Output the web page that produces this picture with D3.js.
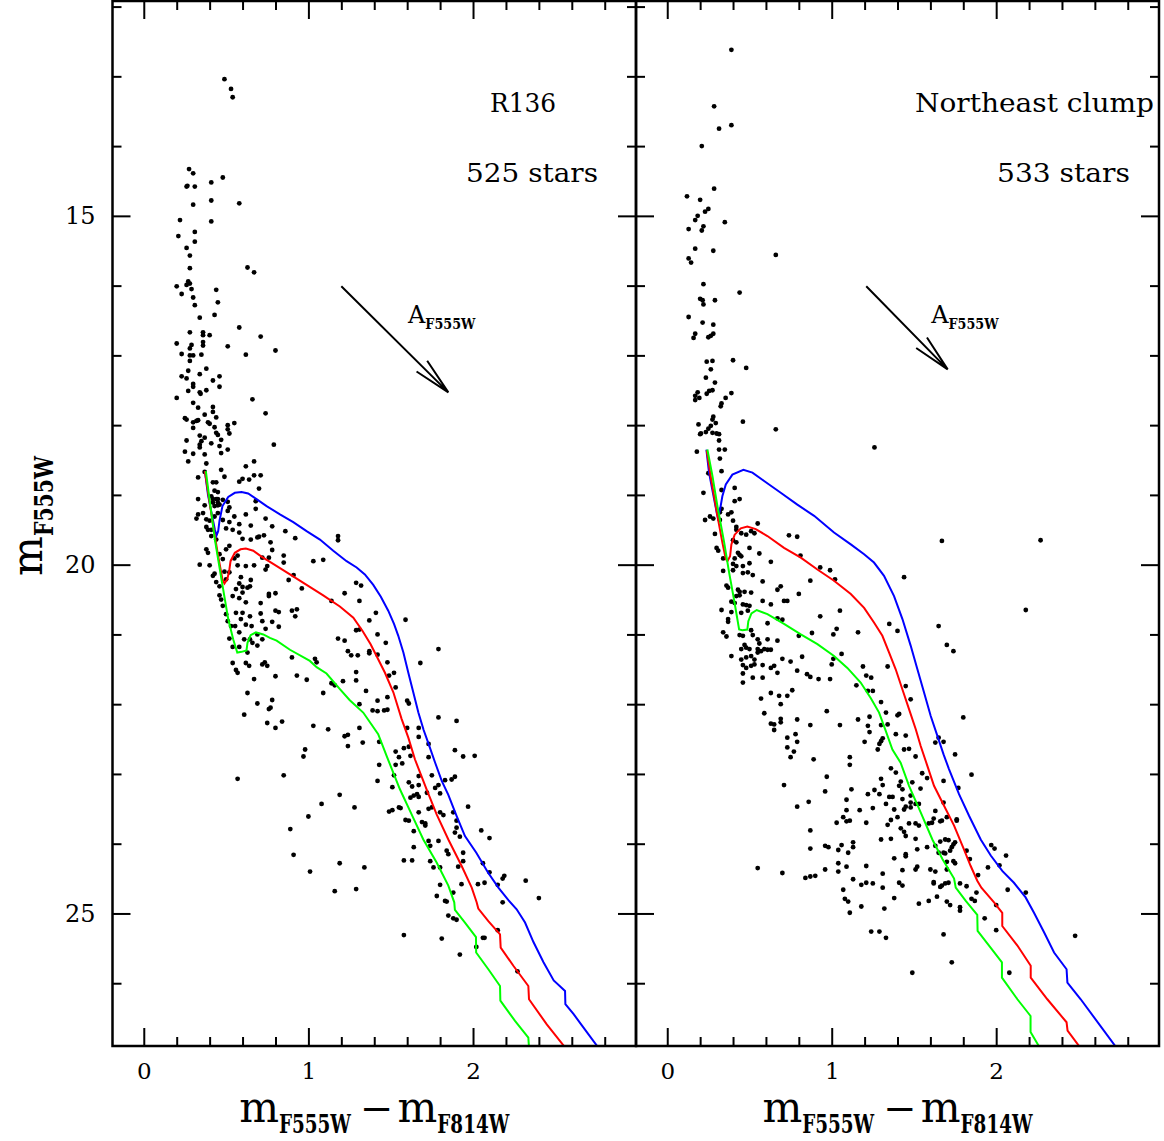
<!DOCTYPE html>
<html>
<head>
<meta charset="utf-8">
<script src="https://cdn.jsdelivr.net/npm/d3@7"></script>
<style>
  body { margin: 0; background: #fff; }
  svg { display: block; }
</style>
</head>
<body>
<div id="chart"></div>
<script>
// ---- Data: stars (colour m555-m814, magnitude m555) ----
const r136Stars = [
  [0.49,13.04],[0.53,13.18],[0.54,13.30],
  [0.275,14.33],[0.30,14.39],[0.26,14.58],[0.265,14.57],[0.31,14.58],[0.41,14.52],[0.48,14.45],[0.30,14.84],[0.41,14.78],[0.58,14.82],
  [0.22,15.06],[0.41,15.08],[0.21,15.29],[0.31,15.23],[0.31,15.37],[0.26,15.46],[0.28,15.57],[0.28,15.75],[0.63,15.74],[0.67,15.81],
  [0.27,15.94],[0.28,15.97],[0.26,15.99],[0.20,16.01],[0.29,16.05],[0.23,16.12],[0.44,16.06],[0.30,16.17],[0.45,16.24],[0.31,16.28],
  [0.43,16.42],[0.34,16.46],[0.58,16.60],[0.28,16.67],[0.36,16.67],[0.36,16.71],[0.40,16.71],[0.71,16.73],[0.20,16.83],[0.29,16.85],
  [0.28,16.90],[0.36,16.81],[0.36,16.86],[0.51,16.87],[0.23,16.98],[0.30,17.00],[0.28,17.00],[0.35,16.99],[0.28,17.08],[0.62,16.99],
  [0.80,16.93],[0.38,17.19],[0.27,17.22],[0.23,17.30],[0.26,17.33],[0.34,17.27],[0.46,17.30],[0.42,17.36],[0.46,17.45],[0.30,17.41],
  [0.30,17.45],[0.27,17.51],[0.34,17.53],[0.345,17.55],[0.38,17.50],[0.20,17.61],[0.66,17.63],[0.30,17.68],[0.33,17.75],[0.42,17.74],
  [0.42,17.81],[0.74,17.83],[0.25,17.90],[0.26,17.92],[0.30,17.96],[0.30,18.04],[0.33,17.93],[0.32,17.94],[0.37,17.85],[0.39,17.96],
  [0.40,17.98],[0.44,17.89],[0.43,18.03],[0.51,18.00],[0.51,18.06],[0.52,18.12],[0.55,17.97],[0.44,18.11],[0.45,18.14],[0.34,18.15],
  [0.37,18.18],[0.26,18.22],[0.35,18.23],[0.34,18.28],[0.34,18.32],[0.47,18.21],[0.41,18.26],[0.46,18.30],[0.79,18.28],[0.25,18.38],
  [0.30,18.41],[0.37,18.42],[0.47,18.40],[0.51,18.35],[0.27,18.52],[0.38,18.55],[0.62,18.59],[0.67,18.52],
  [0.47,18.64],[0.33,18.75],[0.49,18.74],[0.58,18.81],[0.60,18.77],[0.64,18.78],[0.67,18.72],[0.71,18.72],[0.70,18.91],
  [0.37,18.67],[0.42,18.82],[0.44,18.82],[0.43,18.94],[0.45,18.96],[0.41,19.02],[0.42,19.06],[0.44,19.06],[0.45,19.06],[0.42,19.11],
  [0.45,19.11],[0.48,19.07],[0.43,19.16],[0.45,19.15],[0.46,19.14],[0.51,19.10],[0.52,19.18],[0.51,19.23],[0.33,19.06],[0.37,19.15],
  [0.33,19.28],[0.32,19.34],[0.36,19.26],[0.38,19.35],[0.40,19.37],[0.43,19.31],[0.45,19.26],[0.48,19.36],[0.55,19.31],[0.62,19.28],
  [0.38,19.46],[0.39,19.50],[0.41,19.50],[0.41,19.59],[0.44,19.64],[0.50,19.48],[0.54,19.50],[0.58,19.54],[0.58,19.42],[0.65,19.44],
  [0.52,19.39],[0.38,19.78],[0.39,19.83],[0.46,19.85],[0.52,19.73],[0.50,19.78],[0.57,19.87],[0.65,19.64],[0.60,19.63],[0.34,20.00],
  [0.40,20.01],[0.48,19.92],[0.55,19.91],[0.57,20.01],[0.62,20.02],[0.43,20.13],[0.42,20.16],[0.49,20.10],[0.52,20.11],[0.59,20.18],
  [0.44,20.25],[0.46,20.31],[0.50,20.21],[0.58,20.27],[0.60,20.32],[0.63,20.33],[0.645,20.31],[0.56,20.35],[0.46,20.44],[0.47,20.50],
  [0.54,20.45],[0.58,20.48],[0.60,20.40],[0.62,20.54],[0.48,20.59],[0.50,20.71],[0.51,20.81],[0.53,20.88],[0.555,20.88],[0.56,20.69],
  [0.60,20.69],[0.645,20.74],[0.59,20.78],[0.62,20.86],[0.655,20.88],[0.52,21.06],[0.54,21.18],[0.58,20.97],[0.61,21.07],[0.645,21.07],
  [0.58,21.18],[0.63,21.26],[0.69,21.00],[0.72,21.07],
  [0.68,19.09],[0.68,19.20],[0.74,19.34],[0.78,19.45],[0.86,19.52],[0.92,19.62],[0.69,19.61],[0.70,19.60],[0.73,19.58],[0.77,19.68],
  [0.78,19.79],[0.72,19.90],[0.75,20.02],[0.74,20.07],[0.76,19.90],[0.67,20.01],[0.85,19.87],[0.85,19.97],[1.03,19.95],[1.09,19.93],
  [1.18,19.59],[1.18,19.65],[0.65,20.22],[0.88,20.22],[0.91,20.15],[0.96,20.34],[0.71,20.55],[0.76,20.45],[0.76,20.42],[0.80,20.41],
  [1.14,20.52],[1.22,20.41],[1.29,20.26],[1.32,20.30],[1.31,20.52],[0.71,20.70],[0.72,20.81],[0.74,20.92],[0.78,20.82],[0.80,20.66],
  [0.82,20.68],[0.82,20.89],[0.90,20.66],[0.93,20.64],[0.92,20.74],[0.66,21.12],[0.69,21.16],[0.72,21.43],[0.75,21.45],[0.67,21.64],
  [0.80,21.60],[0.90,21.33],[0.93,21.59],[0.99,21.65],[1.04,21.35],[1.05,21.40],[0.69,21.99],[0.77,22.05],[0.76,22.07],[0.78,21.94],
  [0.75,22.27],[0.80,22.34],[0.84,22.25],[0.85,23.02],[0.97,22.75],[0.98,22.65],[1.03,22.31],[1.12,22.36],[1.09,21.84],[1.14,21.70],
  [1.21,21.67],[1.16,21.73],[1.19,23.30],[1.18,21.06],[1.22,21.09],[1.24,21.24],[1.26,21.30],[1.30,21.30],[1.37,21.27],[1.29,20.94],
  [1.31,20.93],[1.37,21.24],[1.29,21.54],[1.29,21.66],[1.35,21.81],[1.31,22.00],[1.22,22.46],[1.24,22.44],[1.24,22.60],[1.31,22.34],
  [1.33,22.55],[1.37,20.80],[1.41,20.69],[1.42,21.00],[1.47,21.12],[1.42,21.95],[1.39,22.09],[1.42,22.10],[1.46,22.09],[1.48,22.08],
  [1.48,21.90],[1.48,21.40],[1.49,21.59],[1.52,21.55],[1.53,21.76],[1.42,21.29],[1.43,22.54],[1.43,22.87],[1.42,23.10],[1.53,22.68],
  [1.55,22.76],[1.57,22.85],[1.58,22.63],[1.61,22.61],[1.62,22.74],[1.52,23.02],[1.51,23.19],[1.59,20.79],[1.60,22.34],[1.67,22.34],
  [1.67,22.47],[1.73,22.57],[1.73,22.76],[1.60,21.95],[1.61,21.99],[1.68,21.41],[1.61,23.12],[1.63,23.18],[1.67,23.03],[1.67,23.16],
  [1.66,23.29],[1.72,23.27],[1.75,23.02],[1.77,23.20],[1.79,23.16],[1.80,23.28],[1.83,23.09],[1.87,23.08],[1.89,23.04],[1.79,21.21],
  [1.79,22.19],[1.90,22.24],[1.89,22.66],[1.94,22.75],[2.01,22.74],[1.53,22.87],[1.62,23.34],[1.67,23.33],
  [0.54,21.41],[0.62,21.41],[0.64,21.45],[0.735,21.40],[0.56,21.51],[0.57,21.55],[0.63,21.84],[0.61,22.15],[0.57,23.07],
  [1.08,23.43],[1.00,23.61],[0.89,23.79],[0.91,24.16],[1.01,24.40],
  [1.28,23.48],[1.49,23.54],[1.51,23.52],[1.55,23.48],[1.56,23.49],[1.59,23.66],[1.61,23.67],[1.69,23.69],[1.71,23.71],[1.71,23.74],
  [1.73,23.50],[1.75,23.48],[1.64,23.31],[1.67,23.55],[1.80,23.55],[1.82,23.59],[1.88,23.55],[1.90,23.67],[1.90,23.77],[1.97,23.47],
  [1.89,23.84],[1.92,23.90],[2.05,23.81],[2.10,23.92],[1.64,23.82],[1.73,23.96],[1.74,24.03],[1.79,23.96],[1.58,24.24],[1.63,24.24],
  [1.64,24.05],[1.19,24.28],[1.34,24.34],[1.16,24.68],[1.29,24.65],[1.74,24.25],[1.76,24.34],[1.80,24.34],[1.84,24.10],[1.85,24.15],
  [1.94,24.13],[1.94,24.25],[1.91,24.33],[1.93,24.58],[1.80,24.59],[1.88,24.70],[1.78,24.75],[1.83,24.82],[1.84,24.83],[1.85,25.03],
  [1.88,25.07],[1.90,25.09],[2.03,24.58],[2.07,24.56],[2.06,24.28],[2.10,24.41],[2.18,24.50],[2.19,24.46],[2.15,24.59],[2.18,24.84],
  [2.32,24.53],[2.40,24.78],[1.58,25.31],[1.81,25.36],[1.92,25.59],[2.02,25.48],[2.06,25.35],[2.07,25.35],[2.15,25.24],[2.27,25.83]
];

const clumpStars = [
  [0.39,12.62],[0.285,13.43],[0.315,13.75],[0.39,13.70],[0.21,14.00],[0.285,14.61],[0.12,14.72],[0.20,14.77],[0.25,14.90],[0.23,14.94],
  [0.185,15.00],[0.17,15.06],[0.13,15.19],[0.22,15.15],[0.21,15.21],[0.35,15.09],[0.17,15.47],[0.28,15.50],[0.13,15.61],[0.145,15.67],
  [0.66,15.56],[0.22,15.98],[0.44,16.10],[0.20,16.19],[0.215,16.21],[0.22,16.27],[0.29,16.21],[0.13,16.45],[0.215,16.53],[0.28,16.56],
  [0.17,16.69],[0.16,16.75],[0.25,16.74],[0.265,16.72],[0.28,16.69],[0.24,17.09],[0.275,17.08],[0.40,17.07],[0.265,17.20],[0.48,17.18],
  [0.235,17.32],[0.29,17.39],[0.185,17.53],[0.17,17.58],[0.17,17.64],[0.195,17.61],[0.24,17.55],[0.255,17.51],[0.275,17.50],[0.39,17.54],
  [0.355,17.61],[0.33,17.69],[0.325,17.73],[0.28,17.88],[0.275,17.92],[0.295,17.97],[0.19,17.99],[0.46,17.95],[0.66,18.06],[0.265,18.01],
  [0.25,18.05],[0.235,18.10],[0.275,18.11],[0.30,18.12],[0.315,18.13],[0.20,18.13],[0.205,18.12],[0.315,18.22],[0.18,18.38],[0.315,18.35],
  [0.35,18.35],[0.32,18.48],[1.26,18.32],
  [0.33,18.66],[0.25,18.69],[0.33,18.93],[0.22,18.97],[0.41,18.90],[0.44,19.06],[0.41,19.09],[0.33,19.20],[0.32,19.25],[0.39,19.25],
  [0.37,19.28],[0.26,19.31],[0.28,19.34],[0.23,19.36],[0.32,19.36],[0.40,19.37],[0.42,19.46],[0.42,19.50],[0.55,19.41],[0.51,19.52],
  [0.53,19.55],[0.45,19.55],[0.48,19.57],[0.29,19.56],[0.74,19.58],[0.79,19.60],[0.40,19.65],[0.42,19.68],[0.30,19.76],[0.31,19.80],
  [0.50,19.76],[0.43,19.83],[0.44,19.86],[0.45,19.88],[0.56,19.84],[0.81,19.87],[0.34,19.91],[0.41,19.91],[0.40,19.99],[0.42,20.02],
  [0.46,20.02],[0.50,19.98],[0.63,19.96],[0.34,20.09],[0.40,20.08],[0.46,20.12],[0.49,20.11],[0.52,20.15],[0.93,20.04],[0.99,20.08],
  [1.02,20.21],[0.87,20.23],[0.58,20.24],[0.36,20.30],[0.37,20.33],[0.69,20.31],[0.67,20.36],[0.80,20.42],[0.43,20.36],[0.44,20.39],
  [0.44,20.44],[0.42,20.45],[0.47,20.39],[0.51,20.40],[0.39,20.53],[0.41,20.55],[0.46,20.57],[0.48,20.58],[0.50,20.59],[0.58,20.52],
  [0.63,20.57],[0.71,20.52],[0.73,20.52],[0.33,20.65],[1.05,20.66],[0.39,20.68],[0.37,20.78],[0.37,20.82],[0.45,20.69],[0.49,20.66],
  [0.61,20.84],[0.67,20.77],[0.70,20.79],[0.93,20.74],[0.34,20.97],[0.36,21.03],[0.44,21.01],[0.46,21.02],[0.51,20.94],[0.52,21.01],
  [0.61,21.07],[0.67,21.09],[0.47,21.15],[0.45,21.21],[0.48,21.19],[0.50,21.21],[0.55,21.07],[0.56,21.13],[0.55,21.21],[0.59,21.21],
  [0.61,21.22],[0.63,21.22],[0.80,21.02],[0.88,20.98],[1.01,21.00],[1.03,20.92],[1.16,20.97],[1.35,20.85],[1.40,20.95],[0.39,21.31],
  [0.45,21.36],[0.48,21.33],[0.51,21.31],[0.53,21.36],[0.55,21.26],[0.57,21.24],[0.46,21.44],[0.48,21.48],[0.51,21.45],[0.53,21.43],
  [0.58,21.44],[0.63,21.48],[0.65,21.45],[0.70,21.35],[0.75,21.39],[0.82,21.32],[0.46,21.56],[0.52,21.62],[0.58,21.62],[0.67,21.55],
  [0.79,21.52],[0.85,21.57],[0.87,21.61],[0.92,21.64],[0.99,21.64],[1.00,21.43],[1.01,21.35],[1.06,21.28],[0.46,21.69],[1.19,21.46],
  [1.21,21.59],[1.24,21.62],[1.15,21.73],[1.22,21.81],[1.25,21.81],[1.34,21.46],[1.45,21.74],[1.30,21.97],[1.48,21.93],[1.44,20.18],
  [1.67,19.66],[1.65,20.88],[1.70,21.15],[1.74,21.24],[1.80,22.19],[2.27,19.65],[2.18,20.65],
  [0.57,21.92],[0.63,21.84],[0.68,21.88],[0.73,21.88],[0.76,21.80],[0.69,22.00],[0.59,22.13],[0.63,22.28],[0.65,22.29],[0.65,22.37],
  [0.69,22.21],[0.69,22.26],[0.79,22.22],[0.87,22.30],[0.97,22.10],[1.05,22.30],[1.16,22.22],[1.23,22.18],[1.22,22.31],[1.23,22.40],
  [1.30,22.30],[1.33,22.12],[1.40,22.16],[1.41,22.14],[1.34,22.29],[1.39,22.43],[1.45,22.45],[1.31,22.49],[1.30,22.53],[1.29,22.57],
  [1.28,22.65],[1.20,22.54],[0.73,22.48],[0.78,22.43],[0.79,22.54],[0.77,22.68],[0.73,22.62],[0.75,22.76],[0.89,22.79],[1.11,22.76],
  [1.44,22.65],[1.47,22.64],[1.63,22.55],[1.65,22.48],[1.68,22.54],[1.75,22.72],
  [1.11,22.87],[1.51,22.75],[0.97,23.04],[0.96,23.25],[0.71,23.16],[0.86,23.40],[0.79,23.47],[0.87,23.81],[0.87,24.07],[0.96,24.03],
  [0.98,24.05],[0.96,24.37],[0.55,24.35],[0.70,24.42],[0.84,24.49],[0.87,24.47],[0.90,24.46],[1.04,24.09],[1.06,24.02],[1.04,24.28],
  [1.04,24.40],[1.09,24.33],[1.10,24.13],[1.13,24.05],[1.13,23.98],[1.09,23.37],[1.09,23.52],[1.07,23.62],[1.09,23.68],[1.11,23.67],
  [1.03,23.70],[1.12,23.22],[1.17,23.52],[1.21,23.70],[1.21,24.32],[1.22,23.29],[1.25,23.49],[1.26,23.23],[1.29,23.29],[1.30,23.94],
  [1.30,23.07],[1.31,23.16],[1.33,23.43],[1.34,23.73],[1.36,23.93],[1.36,23.66],[1.35,23.33],[1.37,23.33],[1.39,22.98],[1.36,22.92],
  [1.38,23.51],[1.40,23.62],[1.42,23.11],[1.41,23.17],[1.43,23.22],[1.43,23.36],[1.44,23.51],[1.45,23.47],[1.48,23.31],[1.48,23.41],
  [1.48,23.48],[1.51,23.43],[1.53,23.43],[1.49,23.12],[1.54,23.21],[1.42,23.78],[1.44,23.83],[1.45,23.89],[1.47,23.71],[1.51,23.71],
  [1.53,23.74],[1.51,23.93],[1.38,24.21],[1.31,24.43],[1.32,24.93],[1.31,24.63],[1.38,24.78],[1.41,24.56],[1.43,24.60],[1.43,24.38],
  [1.45,24.18],[1.45,24.15],[1.52,24.08],[1.52,24.33],[1.51,24.37],[1.53,24.86],[1.58,24.05],[1.59,24.82],[1.59,23.71],[1.61,23.70],
  [1.62,23.64],[1.63,23.53],[1.60,24.37],[1.62,24.55],[1.62,24.57],[1.63,24.03],[1.65,24.13],[1.63,24.40],[1.64,24.76],[1.66,24.62],
  [1.67,24.60],[1.66,23.97],[1.69,23.94],[1.71,23.95],[1.66,23.68],[1.67,23.67],[1.70,23.62],[1.68,23.10],[1.68,23.41],[1.70,24.26],
  [1.70,24.37],[1.68,24.13],[1.69,24.14],[1.72,24.10],[1.70,24.83],[1.72,24.88],[1.69,24.57],[1.71,24.56],[1.73,24.05],[1.74,24.01],
  [1.75,23.98],[1.76,23.65],[1.76,23.67],[1.74,24.25],[1.75,24.28],[1.78,24.57],[1.78,24.91],[1.78,24.96],[1.82,24.61],[1.82,24.10],
  [1.84,24.22],[1.85,24.79],[1.87,24.82],[1.88,24.70],[1.89,24.45],[1.93,25.07],[1.95,24.34],[1.97,24.02],[1.99,24.07],[2.00,24.88],
  [2.00,25.24],[2.02,24.31],[2.06,24.17],[2.07,24.66],[2.08,25.85],[2.18,24.70],[2.48,25.32],[1.68,25.30],[1.73,25.70],[1.49,25.85],
  [1.24,25.26],[1.29,25.26],[1.33,25.35],[1.07,24.66],[1.08,24.79],[1.10,24.83],[1.11,24.99],[1.18,24.90],[1.21,24.56],[1.25,24.57],
  [1.13,24.51],[1.18,24.59],[1.85,23.01],[1.77,23.20],[1.55,22.99],[1.58,23.06]
];

// ---- Isochrones (blue, red, green) for each panel ----
const r136Blue = [[0.371,18.66],[0.39,19.00],[0.415,19.30],[0.432,19.50],[0.442,19.58],[0.452,19.52],[0.46,19.37],[0.478,19.16],[0.513,19.03],[0.553,18.97],[0.594,18.96],[0.634,18.98],[0.685,19.06],[0.746,19.16],[0.827,19.28],[0.908,19.39],[0.989,19.52],[1.07,19.64],[1.151,19.80],[1.232,19.95],[1.293,20.04],[1.343,20.14],[1.394,20.29],[1.44,20.46],[1.485,20.66],[1.52,20.85],[1.546,21.02],[1.577,21.26],[1.607,21.55],[1.637,21.83],[1.668,22.12],[1.70,22.37],[1.73,22.57],[1.77,22.84],[1.81,23.10],[1.85,23.30],[1.90,23.60],[1.951,23.89],[2.02,24.13],[2.09,24.41],[2.154,24.63],[2.215,24.81],[2.265,24.94],[2.316,25.13],[2.367,25.41],[2.428,25.70],[2.49,25.96],[2.559,26.11],[2.561,26.30],[2.61,26.44],[2.66,26.60],[2.76,26.92]];
const r136Red = [[0.371,18.66],[0.391,18.97],[0.422,19.45],[0.452,19.88],[0.478,20.21],[0.49,20.27],[0.507,20.21],[0.519,20.09],[0.527,19.95],[0.553,19.83],[0.588,19.78],[0.62,19.77],[0.665,19.80],[0.715,19.885],[0.786,19.99],[0.888,20.14],[0.989,20.29],[1.09,20.44],[1.191,20.60],[1.273,20.76],[1.329,20.95],[1.378,21.14],[1.414,21.31],[1.465,21.55],[1.516,21.83],[1.566,22.21],[1.607,22.48],[1.647,22.79],[1.718,23.22],[1.779,23.58],[1.85,23.94],[1.931,24.32],[1.992,24.63],[2.022,24.84],[2.032,24.93],[2.093,25.11],[2.164,25.30],[2.168,25.49],[2.245,25.75],[2.336,26.04],[2.340,26.23],[2.448,26.59],[2.559,26.92]];
const r136Green = [[0.377,18.66],[0.397,19.02],[0.432,19.64],[0.472,20.21],[0.513,20.78],[0.543,21.07],[0.568,21.26],[0.594,21.25],[0.624,21.23],[0.63,21.12],[0.649,21.01],[0.681,20.97],[0.726,21.00],[0.766,21.05],[0.807,21.09],[0.888,21.22],[1.009,21.38],[1.05,21.47],[1.11,21.56],[1.19,21.78],[1.25,21.94],[1.333,22.12],[1.424,22.43],[1.475,22.74],[1.51,22.95],[1.556,23.22],[1.627,23.58],[1.698,23.94],[1.779,24.27],[1.85,24.60],[1.886,24.84],[1.89,24.95],[1.951,25.13],[2.018,25.34],[2.019,25.56],[2.093,25.80],[2.164,26.04],[2.166,26.25],[2.255,26.54],[2.336,26.78],[2.34,26.92]];

const clumpBlue = [[0.238,18.35],[0.254,18.68],[0.285,19.06],[0.303,19.28],[0.309,19.33],[0.321,19.21],[0.335,19.02],[0.356,18.85],[0.396,18.71],[0.463,18.64],[0.518,18.68],[0.589,18.80],[0.69,18.97],[0.791,19.14],[0.893,19.30],[1.014,19.54],[1.116,19.71],[1.197,19.85],[1.257,19.97],[1.318,20.16],[1.379,20.45],[1.43,20.78],[1.48,21.16],[1.521,21.50],[1.561,21.83],[1.602,22.17],[1.642,22.45],[1.68,22.72],[1.713,22.93],[1.774,23.29],[1.835,23.60],[1.906,23.94],[1.967,24.17],[2.037,24.39],[2.108,24.56],[2.179,24.77],[2.23,24.99],[2.291,25.27],[2.352,25.56],[2.428,25.80],[2.433,25.99],[2.514,26.23],[2.73,26.92]];
const clumpRed = [[0.24,18.36],[0.264,18.73],[0.305,19.30],[0.335,19.68],[0.356,19.92],[0.366,19.95],[0.382,19.88],[0.39,19.71],[0.41,19.57],[0.447,19.48],[0.487,19.455],[0.538,19.49],[0.609,19.59],[0.71,19.76],[0.812,19.90],[0.913,20.07],[1.014,20.23],[1.116,20.42],[1.197,20.62],[1.257,20.83],[1.308,21.02],[1.349,21.26],[1.389,21.50],[1.43,21.79],[1.47,22.07],[1.511,22.36],[1.541,22.60],[1.581,22.88],[1.622,23.17],[1.673,23.41],[1.744,23.74],[1.804,24.08],[1.845,24.32],[1.885,24.53],[1.91,24.63],[1.987,24.84],[2.037,24.99],[2.037,25.18],[2.129,25.46],[2.21,25.75],[2.21,25.92],[2.311,26.23],[2.428,26.56],[2.434,26.68],[2.51,26.92]];
const clumpGreen = [[0.244,18.35],[0.275,18.73],[0.305,19.16],[0.346,19.68],[0.376,20.11],[0.406,20.50],[0.437,20.93],[0.457,20.94],[0.487,20.93],[0.493,20.81],[0.512,20.70],[0.544,20.65],[0.609,20.71],[0.71,20.85],[0.812,21.00],[0.913,21.14],[1.014,21.31],[1.095,21.48],[1.176,21.69],[1.237,21.91],[1.288,22.12],[1.328,22.38],[1.369,22.65],[1.419,22.84],[1.47,23.17],[1.541,23.55],[1.612,23.94],[1.673,24.22],[1.744,24.50],[1.754,24.63],[1.815,24.82],[1.885,25.02],[1.887,25.25],[1.966,25.49],[2.035,25.70],[2.035,25.92],[2.129,26.23],[2.209,26.47],[2.209,26.70],[2.264,26.92]];

// ---- Reddening vectors (start, end) and panel text ----
const r136Arrow = [[1.20,16.01],[1.85,17.53]];
const clumpArrow = [[1.21,16.01],[1.705,17.20]];
const panelNames = ['R136', 'Northeast clump'];
const starCounts = ['525 stars', '533 stars'];

// ---- Axis ticks ----
const xMajorTicks = [0, 1, 2];
const xMinorTicks = [0.2, 0.4, 0.6, 0.8, 1.2, 1.4, 1.6, 1.8, 2.2, 2.4, 2.6, 2.8];
const yMajorTicks = [15, 20, 25];
const yMinorTicks = [12, 13, 14, 16, 17, 18, 19, 21, 22, 23, 24, 26];

function draw() {
  const dims = { width: 1164, height: 1141, top: 1, bottom: 1046 };
  const serif = '"DejaVu Serif", serif';

  const svg = d3.select('#chart').append('svg')
    .attr('width', dims.width)
    .attr('height', dims.height);

  const yScale = d3.scaleLinear().domain([11.92, 26.9]).range([dims.top, dims.bottom]);

  const panels = [
    { x0: 112.5, x1: 636, stars: r136Stars, iso: [r136Blue, r136Red, r136Green], arrow: r136Arrow,
      name: panelNames[0], count: starCounts[0], nameX: 490, countX: 466, nameLen: 66, countLen: 132, labelLeft: true },
    { x0: 636, x1: 1159, stars: clumpStars, iso: [clumpBlue, clumpRed, clumpGreen], arrow: clumpArrow,
      name: panelNames[1], count: starCounts[1], nameX: 915, countX: 997, nameLen: 239, countLen: 133, labelLeft: false }
  ];
  const isoColors = ['#0000ff', '#ff0000', '#00ff00'];
  const defs = svg.append('defs');

  panels.forEach((p, i) => {
    const xScale = d3.scaleLinear().domain([-0.19, 2.99]).range([p.x0, p.x1]);
    const g = svg.append('g');

    // clip for curves
    defs.append('clipPath').attr('id', `clip${i}`)
      .append('rect')
      .attr('x', p.x0).attr('y', dims.top)
      .attr('width', p.x1 - p.x0).attr('height', dims.bottom - dims.top);

    // Stars
    g.append('g').selectAll('circle')
      .data(p.stars)
      .join('circle')
      .attr('cx', d => xScale(d[0]))
      .attr('cy', d => yScale(d[1]))
      .attr('r', 2.4)
      .attr('fill', '#000');

    // Isochrones
    const line = d3.line().x(d => xScale(d[0])).y(d => yScale(d[1]));
    g.append('g').attr('clip-path', `url(#clip${i})`)
      .selectAll('path')
      .data(p.iso)
      .join('path')
      .attr('d', line)
      .attr('fill', 'none')
      .attr('stroke', (d, k) => isoColors[k])
      .attr('stroke-width', 2);

    // Reddening arrow (open head)
    const [a0, a1] = p.arrow;
    const ax0 = xScale(a0[0]), ay0 = yScale(a0[1]), ax1 = xScale(a1[0]), ay1 = yScale(a1[1]);
    const ang = Math.atan2(ay0 - ay1, ax0 - ax1);
    const head = 38, spread = 0.2;
    g.append('path')
      .attr('d', `M${ax0},${ay0}L${ax1},${ay1}` +
        `M${ax1 + head * Math.cos(ang - spread)},${ay1 + head * Math.sin(ang - spread)}L${ax1},${ay1}` +
        `L${ax1 + head * Math.cos(ang + spread)},${ay1 + head * Math.sin(ang + spread)}`)
      .attr('fill', 'none')
      .attr('stroke', '#000')
      .attr('stroke-width', 2);

    const aLabel = g.append('text')
      .attr('x', xScale(1.605))
      .attr('y', yScale(16.54))
      .attr('font-family', serif)
      .attr('font-size', 24)
      .text('A');
    aLabel.append('tspan')
      .attr('dy', 6)
      .attr('font-weight', 'bold')
      .attr('font-size', 15)
      .attr('textLength', 50)
      .attr('lengthAdjust', 'spacingAndGlyphs')
      .text('F555W');

    // Panel labels
    g.append('text')
      .attr('x', p.nameX).attr('y', 112)
      .attr('font-family', serif).attr('font-size', 26)
      .attr('textLength', p.nameLen).attr('lengthAdjust', 'spacingAndGlyphs')
      .text(p.name);
    g.append('text')
      .attr('x', p.countX).attr('y', 182)
      .attr('font-family', serif).attr('font-size', 26)
      .attr('textLength', p.countLen).attr('lengthAdjust', 'spacingAndGlyphs')
      .text(p.count);

    // Ticks on all four sides, pointing inward
    const styleAxis = sel => {
      sel.select('.domain').remove();
      sel.selectAll('line').attr('stroke-width', 2);
    };
    [[d3.axisBottom(xScale), `translate(0,${dims.bottom})`], [d3.axisTop(xScale), `translate(0,${dims.top})`]]
      .forEach(([axis, pos]) => {
        g.append('g').attr('transform', pos)
          .call(axis.tickValues(xMinorTicks).tickSize(-9).tickFormat(''))
          .call(styleAxis);
      });
    [[d3.axisLeft(yScale), `translate(${p.x0},0)`], [d3.axisRight(yScale), `translate(${p.x1},0)`]]
      .forEach(([axis, pos]) => {
        g.append('g').attr('transform', pos)
          .call(axis.tickValues(yMinorTicks).tickSize(-9).tickFormat(''))
          .call(styleAxis);
      });

    // Major ticks, labels bottom and (left panel) left
    g.append('g').attr('transform', `translate(0,${dims.bottom})`)
      .call(d3.axisBottom(xScale).tickValues(xMajorTicks).tickSize(-18).tickPadding(17).tickFormat(d3.format('d')))
      .call(styleAxis)
      .call(a => a.selectAll('text').attr('font-family', serif).attr('font-size', 23).attr('fill', '#000'));
    g.append('g').attr('transform', `translate(0,${dims.top})`)
      .call(d3.axisTop(xScale).tickValues(xMajorTicks).tickSize(-18).tickFormat(''))
      .call(styleAxis);
    g.append('g').attr('transform', `translate(${p.x0},0)`)
      .call(d3.axisLeft(yScale).tickValues(yMajorTicks).tickSize(-18).tickPadding(17)
        .tickFormat(p.labelLeft ? d3.format('d') : ''))
      .call(styleAxis)
      .call(a => a.selectAll('text').attr('font-family', serif).attr('font-size', 24).attr('fill', '#000'));
    g.append('g').attr('transform', `translate(${p.x1},0)`)
      .call(d3.axisRight(yScale).tickValues(yMajorTicks).tickSize(-18).tickFormat(''))
      .call(styleAxis);

    // Frame
    g.append('rect')
      .attr('x', p.x0).attr('y', dims.top)
      .attr('width', p.x1 - p.x0).attr('height', dims.bottom - dims.top)
      .attr('fill', 'none')
      .attr('stroke', '#000')
      .attr('stroke-width', 2.5);

    // x-axis title
    const cx = (p.x0 + p.x1) / 2;
    const xt = g.append('text')
      .attr('x', cx).attr('y', 1122)
      .attr('text-anchor', 'middle')
      .attr('font-family', serif)
      .attr('font-size', 42);
    xt.append('tspan').text('m');
    xt.append('tspan').attr('dy', 11).attr('font-size', 26).attr('font-weight', 'bold')
      .attr('textLength', 72).attr('lengthAdjust', 'spacingAndGlyphs').text('F555W');
    xt.append('tspan').attr('dx', 9).attr('dy', -11).attr('font-size', 40).text('\u2212');
    xt.append('tspan').attr('dx', 4).text('m');
    xt.append('tspan').attr('dy', 11).attr('font-size', 26).attr('font-weight', 'bold')
      .attr('textLength', 72).attr('lengthAdjust', 'spacingAndGlyphs').text('F814W');
  });

  // y-axis title
  const yt = svg.append('text')
    .attr('transform', 'translate(42,516) rotate(-90)')
    .attr('text-anchor', 'middle')
    .attr('font-family', serif)
    .attr('font-size', 42);
  yt.append('tspan').text('m');
  yt.append('tspan').attr('dy', 11).attr('font-size', 26).attr('font-weight', 'bold')
    .attr('textLength', 80).attr('lengthAdjust', 'spacingAndGlyphs').text('F555W');
}

draw();
</script>
</body>
</html>
